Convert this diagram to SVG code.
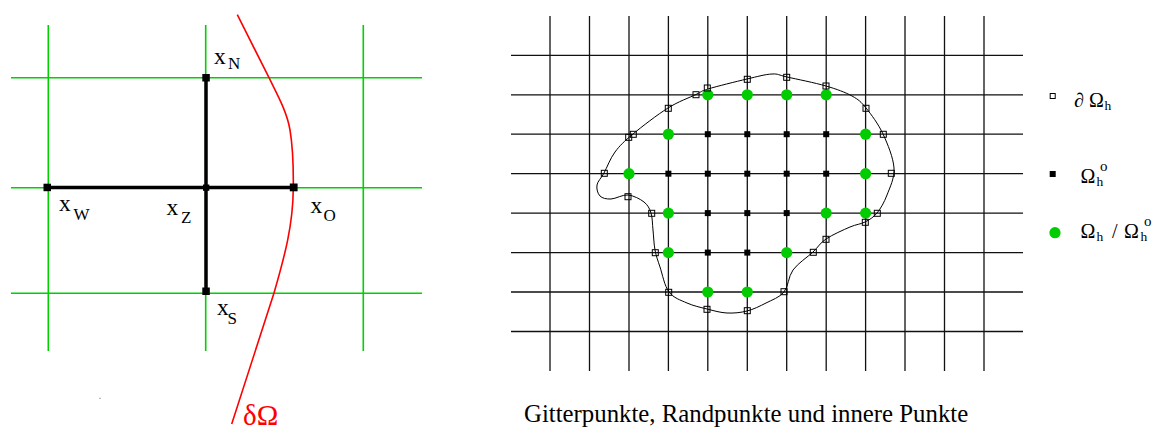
<svg xmlns="http://www.w3.org/2000/svg" width="1157" height="431" viewBox="0 0 1157 431">
<style>
.g{stroke:#00d000;stroke-width:1.6;fill:none}
.k{stroke:#111;stroke-width:1.3;fill:none}
.bl{stroke:#000;stroke-width:3.5;fill:none}
.nd{fill:#000}
.t{font-family:"Liberation Serif","Times New Roman",serif;fill:#000}
.tx{font-size:23.5px}
.ts{font-size:17px}
.bd{fill:none;stroke:#000;stroke-width:1}
.in{fill:#000}
.gr{fill:#00cc00}
.lg{font-size:20px}
.lh{font-size:13.5px}
.lo{font-size:15px}
</style>
<rect width="1157" height="431" fill="#fff"/>
<!-- LEFT: green grid -->
<g id="left-grid">
<path class="g" d="M48.3,25V351M205.7,25V351M363.3,25V351M11,77.7H422M11,187.7H422M11,293.3H422"/>
</g>
<path id="boundary-left" d="M237.3,14.7L269,77.7C278,96 287,112 290,130C293,148 293.5,170 293.3,188C293,225 285,255 274,293L231.7,424" fill="none" stroke="#ff0000" stroke-width="1.6"/>
<g id="connectors">
<path class="bl" d="M47.3,187.5H293.7M206,77.7V291.3"/>
</g>
<g id="xN"><rect class="nd" x="202.3" y="74" width="7.5" height="7.5"/><text class="t tx" x="214" y="63.5">x</text><text class="t ts" x="228" y="69.3">N</text></g>
<g id="xW"><rect class="nd" x="43.5" y="183.7" width="7.5" height="7.5"/><text class="t tx" x="59" y="211">x</text><text class="t ts" x="73.5" y="220">W</text></g>
<g id="xZ"><rect class="nd" x="203" y="184.5" width="6.3" height="6.3"/><text class="t tx" x="166.5" y="215">x</text><text class="t ts" x="181" y="223.3">Z</text></g>
<g id="xO"><rect class="nd" x="289.8" y="183.5" width="7.8" height="7.8"/><text class="t tx" x="310.5" y="213.3">x</text><text class="t ts" x="323.5" y="220.7">O</text></g>
<g id="xS"><rect class="nd" x="202.3" y="287.5" width="7.5" height="7.5"/><text class="t tx" x="217" y="315">x</text><text class="t ts" x="227.5" y="324">S</text></g>
<text class="t" x="243" y="425" font-size="29" style="fill:#ff0000">δΩ</text>
<rect x="99.5" y="397.8" width="1" height="1" fill="#555"/>
<!-- RIGHT: black grid -->
<g id="right-grid">
<path class="k" d="M550,16V371M589.5,16V371M629,16V371M668.4,16V371M707.8,16V371M747.3,16V371M786.7,16V371M826.2,16V371M865.6,16V371M905,16V371M944.5,16V371M984,16V371"/>
<path class="k" d="M511,55.3H1023M511,94.8H1023M511,134.2H1023M511,173.7H1023M511,213.1H1023M511,252.6H1023M511,292H1023M511,331.5H1023"/>
</g>
<path id="omega-boundary" fill="none" stroke="#000" stroke-width="1" d="M604,173C607,167.5 610.17,158.5 615,152S624.17,141.33 633,134S657.5,114.58 668,108S689.33,97.67 696,94.5S699.5,91.58 708,89S736.33,81.5 747,79S765.33,74.33 772,74S778,75 787,77S815.17,82.83 826,86S845.33,92.33 852,96S860.83,101.67 866,108S878.33,124 883,134S893.33,157.83 894,168S889.83,187.5 887,195S880.67,208.5 877,213S869.5,219.67 865,222S856.5,224.17 850,227S832.17,234.83 826,239S818.5,246.83 813,252S797.83,263.33 793,270S788.5,286.5 784,292S772.17,299.83 766,303S753.5,309.33 747,311S733.67,313.33 727,313S713.67,310.67 707,309S693.33,305.83 687,303S673.5,298 669,292S662.33,274 660,267S656.17,256.17 655,250S653.67,236.17 653,230S652.5,217.67 651,213S647.83,205 644,202S633.5,195.5 628,195S615.67,198.83 611,199S602.33,198.33 600,196S596.33,188.83 597,185S601,178.5 604,173Z"/>
<g id="inner-points">
<rect class="in" x="704.8" y="131.2" width="6" height="6"/><rect class="in" x="744.3" y="131.2" width="6" height="6"/><rect class="in" x="783.7" y="131.2" width="6" height="6"/><rect class="in" x="823.2" y="131.2" width="6" height="6"/>
<rect class="in" x="665.4" y="170.7" width="6" height="6"/><rect class="in" x="704.8" y="170.7" width="6" height="6"/><rect class="in" x="744.3" y="170.7" width="6" height="6"/><rect class="in" x="783.7" y="170.7" width="6" height="6"/><rect class="in" x="823.2" y="170.7" width="6" height="6"/>
<rect class="in" x="704.8" y="210.1" width="6" height="6"/><rect class="in" x="744.3" y="210.1" width="6" height="6"/><rect class="in" x="783.7" y="210.1" width="6" height="6"/>
<rect class="in" x="704.8" y="249.6" width="6" height="6"/><rect class="in" x="744.3" y="249.6" width="6" height="6"/>
</g>
<g id="near-boundary-points">
<circle class="gr" cx="707.8" cy="94.8" r="5.6"/><circle class="gr" cx="747.3" cy="94.8" r="5.6"/><circle class="gr" cx="786.7" cy="94.8" r="5.6"/><circle class="gr" cx="826.2" cy="94.8" r="5.6"/>
<circle class="gr" cx="668.4" cy="134.2" r="5.6"/><circle class="gr" cx="865.6" cy="134.2" r="5.6"/>
<circle class="gr" cx="629" cy="173.7" r="5.6"/><circle class="gr" cx="865.6" cy="173.7" r="5.6"/>
<circle class="gr" cx="668.4" cy="213.1" r="5.6"/><circle class="gr" cx="826.2" cy="213.1" r="5.6"/><circle class="gr" cx="865.6" cy="213.1" r="5.6"/>
<circle class="gr" cx="668.4" cy="252.6" r="5.6"/><circle class="gr" cx="786.7" cy="252.6" r="5.6"/>
<circle class="gr" cx="707.8" cy="292" r="5.6"/><circle class="gr" cx="747.3" cy="292" r="5.6"/>
</g>
<g id="boundary-points">
<rect class="bd" x="601.3" y="170.3" width="6" height="6"/>
<rect class="bd" x="625.7" y="134.3" width="6" height="6"/>
<rect class="bd" x="630.3" y="131.3" width="6" height="6"/>
<rect class="bd" x="665.3" y="105.3" width="6" height="6"/>
<rect class="bd" x="693" y="91.7" width="6" height="6"/>
<rect class="bd" x="704.3" y="85" width="6" height="6"/>
<rect class="bd" x="744.3" y="76.3" width="6" height="6"/>
<rect class="bd" x="783.7" y="74.3" width="6" height="6"/>
<rect class="bd" x="823" y="83" width="6" height="6"/>
<rect class="bd" x="863" y="105.3" width="6" height="6"/>
<rect class="bd" x="880.3" y="131.3" width="6" height="6"/>
<rect class="bd" x="888.3" y="170.3" width="6" height="6"/>
<rect class="bd" x="874.3" y="210.3" width="6" height="6"/>
<rect class="bd" x="862.3" y="219.3" width="6" height="6"/>
<rect class="bd" x="823" y="236.3" width="6" height="6"/>
<rect class="bd" x="810.3" y="249.3" width="6" height="6"/>
<rect class="bd" x="781" y="288.7" width="6" height="6"/>
<rect class="bd" x="744.3" y="307.7" width="6" height="6"/>
<rect class="bd" x="704" y="306.3" width="6" height="6"/>
<rect class="bd" x="665.7" y="289.3" width="6" height="6"/>
<rect class="bd" x="652.3" y="249.7" width="6" height="6"/>
<rect class="bd" x="648.7" y="210.3" width="6" height="6"/>
<rect class="bd" x="625" y="193.7" width="6" height="6"/>
</g>
<g id="legend">
<g id="legend-boundary"><rect class="bd" x="1050.2" y="93.5" width="5" height="5"/><text class="t lg" x="1074" y="106.7" font-size="21">∂</text><text class="t lg" x="1089" y="106.7">Ω</text><text class="t lh" x="1104.5" y="109.5">h</text></g>
<g id="legend-inner"><rect class="in" x="1049.7" y="171" width="6" height="6"/><text class="t lg" x="1080.5" y="183.3">Ω</text><text class="t lh" x="1096.5" y="186">h</text><text class="t lo" x="1100" y="171">o</text></g>
<g id="legend-near"><circle class="gr" cx="1055" cy="232.7" r="5.6"/><text class="t lg" x="1080.5" y="238.3">Ω</text><text class="t lh" x="1096.5" y="241">h</text><text class="t lg" x="1112" y="238.3">/</text><text class="t lg" x="1124" y="238.3">Ω</text><text class="t lh" x="1140.5" y="241">h</text><text class="t lo" x="1144" y="226">o</text></g>
</g>
<text class="t" x="524" y="421.5" font-size="24.8">Gitterpunkte, Randpunkte und innere Punkte</text>
</svg>
